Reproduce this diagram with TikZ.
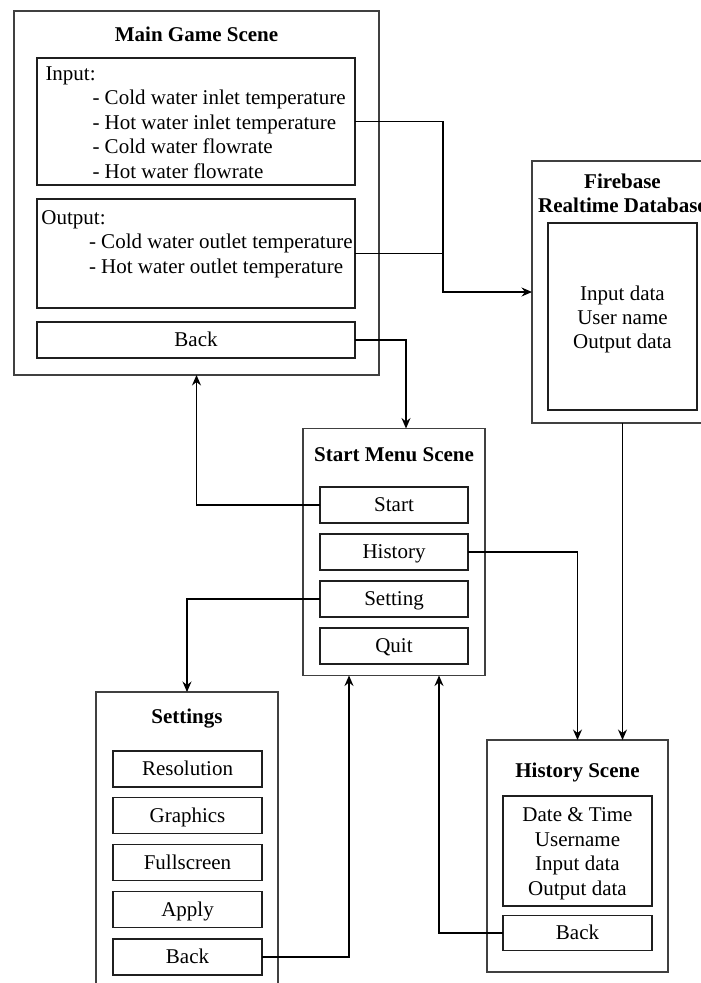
\documentclass[tikz,border=0pt]{standalone}
\usepackage{fontspec}
\setmainfont{Liberation Serif}
\usetikzlibrary{arrows.meta}
\begin{document}
\begin{tikzpicture}[x=1pt,y=-1pt,
  every node/.style={font=\fontsize{21}{24.5}\selectfont, inner sep=0pt, outer sep=0pt},
  scene/.style={draw=black!75, line width=1.4pt, rectangle},
  panel/.style={draw=black!88, line width=1.25pt, rectangle},
  btn/.style={panel, minimum width=149pt, minimum height=36pt, text height=13.9pt, text depth=0pt},
  title/.style={font=\fontsize{21}{24.5}\selectfont\bfseries, anchor=base},
  txt/.style={anchor=base},
  ltxt/.style={anchor=base west},
  plainline/.style={draw=black, line width=1.25pt},
  link/.style={plainline, -{Stealth[length=10.5pt,width=9pt,inset=3.5pt]}},
]
\clip (0,0) rectangle (701,983);
\fill[white] (0,0) rectangle (701,983);

% Main Game Scene
\node[scene, minimum width=365pt, minimum height=364pt] (main) at (196.5,193) {};
\node[title] (maint) at (196.5,41) {Main Game Scene};
\node[panel, minimum width=318pt, minimum height=127pt] (inbox) at (196,121.5) {};
\node[panel, minimum width=318pt, minimum height=109pt] (outbox) at (196,253.5) {};
\node[btn, minimum width=318pt] (mback) at (196,340) {Back};
\node[ltxt] (in0) at (45.5,80) {Input:};
\node[ltxt] (in1) at (92.5,104.5) {- Cold water inlet temperature};
\node[ltxt] (in2) at (92.5,129) {- Hot water inlet temperature};
\node[ltxt] (in3) at (92.5,153.8) {- Cold water flowrate};
\node[ltxt] (in4) at (92.5,178.5) {- Hot water flowrate};
\node[ltxt] (out0) at (41.5,224) {Output:};
\node[ltxt] (out1) at (89,248.5) {- Cold water outlet temperature};
\node[ltxt] (out2) at (89,273.5) {- Hot water outlet temperature};

% Firebase
\node[scene, minimum width=181pt, minimum height=262pt] (fb) at (622.5,292) {};
\node[title] (fbt1) at (622.5,188) {Firebase};
\node[title] (fbt2) at (622.5,212) {Realtime Database};
\node[panel, minimum width=149pt, minimum height=187pt] (fbin) at (622.5,316.5) {};
\node[txt] (fb1) at (622.5,300) {Input data};
\node[txt] (fb2) at (622.5,324.3) {User name};
\node[txt] (fb3) at (622.5,348.5) {Output data};

% Start Menu Scene
\node[scene, minimum width=182pt, minimum height=247pt] (sm) at (394,552) {};
\node[title] (smt) at (394,461) {Start Menu Scene};
\node[btn, minimum width=148pt] (startb) at (394,505) {Start};
\node[btn, minimum width=148pt] (histb) at (394,552) {History};
\node[btn, minimum width=148pt] (settb) at (394,599) {Setting};
\node[btn, minimum width=148pt] (quitb) at (394,646) {Quit};

% Settings
\node[scene, minimum width=182pt, minimum height=318pt] (set) at (187,851) {};
\node[title] (sett) at (187,723) {Settings};
\node[btn] (resb) at (187.5,769) {Resolution};
\node[btn] (grab) at (187.5,815.5) {Graphics};
\node[btn] (fulb) at (187.5,862.5) {Fullscreen};
\node[btn] (appb) at (187.5,909.5) {Apply};
\node[btn] (sback) at (187.5,957) {Back};

% History Scene
\node[scene, minimum width=181pt, minimum height=232pt] (hs) at (577.5,856) {};
\node[title] (hst) at (577.5,777) {History Scene};
\node[panel, minimum width=149pt, minimum height=110pt] (hsin) at (577.5,851) {};
\node[txt] (hs1) at (577.5,821.7) {Date \& Time};
\node[txt] (hs2) at (577.5,846) {Username};
\node[txt] (hs3) at (577.5,870.5) {Input data};
\node[txt] (hs4) at (577.5,895) {Output data};
\node[btn, minimum height=35pt] (hback) at (577.5,933) {Back};

% Connectors
\coordinate (jx) at (443,0);
\draw[plainline] (outbox.east) -- (jx |- outbox.east);
\draw[link] (inbox.east) -| (jx |- fb.west) -- (fb.west);
\draw[link] (mback.east) -| ([xshift=12pt]sm.north);
\draw[link] (startb.west) -| (main.south);
\draw[link] (settb.west) -| (set.north);
\draw[link] (histb.east) -| (hs.north);
\draw[link] (fb.south) -- (fb.south |- hs.north);
\draw[link] (sback.east) -| ([xshift=-45pt]sm.south);
\draw[link] (hback.west) -| ([xshift=45pt]sm.south);
\end{tikzpicture}
\end{document}
